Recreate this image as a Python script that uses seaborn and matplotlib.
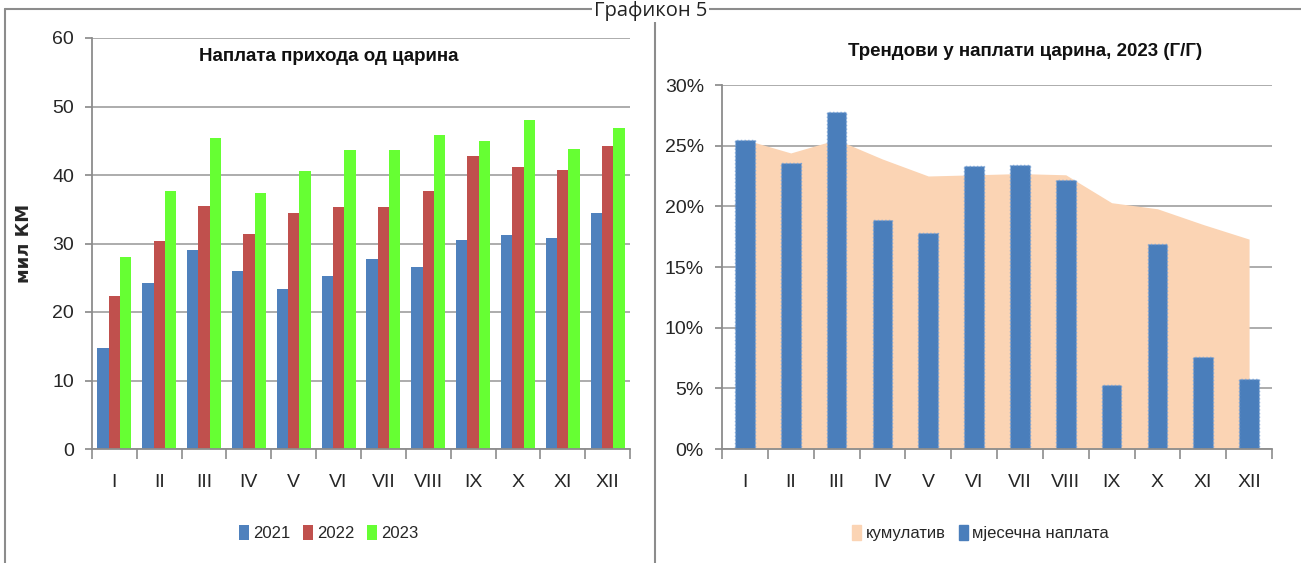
import pandas as pd
import seaborn as sns
import matplotlib.pyplot as plt
from matplotlib.lines import Line2D
from matplotlib.patches import Patch
from matplotlib.ticker import FuncFormatter, FixedLocator

# ---- data ----
months = ["I", "II", "III", "IV", "V", "VI", "VII", "VIII", "IX", "X", "XI", "XII"]
years = ["2021", "2022", "2023"]
rev_2021 = [14.7, 24.3, 29.0, 26.0, 23.3, 25.3, 27.7, 26.6, 30.5, 31.3, 30.8, 34.4]
rev_2022 = [22.4, 30.4, 35.5, 31.4, 34.4, 35.3, 35.3, 37.6, 42.8, 41.2, 40.8, 44.3]
rev_2023 = [28.0, 37.7, 45.4, 37.4, 40.6, 43.6, 43.6, 45.9, 45.0, 48.0, 43.8, 46.9]
monthly_yoy = [25.5, 23.6, 27.8, 18.9, 17.8, 23.3, 23.4, 22.2, 5.3, 16.9, 7.6, 5.8]
cumulative_yoy = [25.5, 24.4, 25.5, 23.9, 22.5, 22.6, 22.7, 22.6, 20.3, 19.8, 18.5, 17.3]

year_colors = ["#4f81bd", "#c0504d", "#66ff33"]
bar_blue = "#4a7ebb"
area_peach = "#fbd4b4"
grid_gray = "#a6a6a6"

sns.set_theme(style="white")
plt.rcParams["font.family"] = ["Liberation Sans", "DejaVu Sans"]

fig = plt.figure(figsize=(13.01, 5.63), dpi=100)

# panel frames and page title
for x0, x1 in [(5, 650), (655, 1301)]:
    fig.add_artist(Line2D([x0 / 1301, x1 / 1301], [1 - 9 / 563] * 2, color="#8c8c8c", lw=1.5))
    fig.add_artist(Line2D([x0 / 1301] * 2, [0, 1 - 9 / 563], color="#8c8c8c", lw=1.5))
fig.text(0.5, 1 - 16 / 563, "Графикон 5", ha="center", va="baseline",
         fontsize=14.5, family=["Open Sans", "DejaVu Sans"], color="#222222",
         bbox=dict(facecolor="white", edgecolor="none", pad=1))


def style_axis(ax):
    ax.yaxis.grid(True, color=grid_gray, lw=1.3)
    ax.set_axisbelow(True)
    for s in ["top", "right"]:
        ax.spines[s].set_visible(False)
    for s in ["left", "bottom"]:
        ax.spines[s].set_color("#8c8c8c")
        ax.spines[s].set_linewidth(1.3)
    ax.set_xlim(-0.5, 11.5)
    ax.xaxis.set_minor_locator(FixedLocator([i - 0.5 for i in range(13)]))
    ax.tick_params(axis="x", which="major", length=0, pad=18, labelsize=14)
    ax.tick_params(axis="x", which="minor", bottom=True, length=7, color="#8c8c8c", width=1.2)
    ax.tick_params(axis="y", left=True, length=5, color="#8c8c8c", labelsize=14, pad=8)
    ax.set_xlabel("")


# ---- left: monthly customs revenue ----
ax1 = fig.add_axes([92 / 1301, 1 - 449 / 563, 538 / 1301, 411 / 563])
df = pd.DataFrame({
    "month": months * 3,
    "year": [y for y in years for _ in months],
    "value": rev_2021 + rev_2022 + rev_2023,
})
sns.barplot(data=df, x="month", y="value", hue="year", palette=year_colors,
            width=0.76, saturation=1, linewidth=0, ax=ax1)
ax1.set_ylim(0, 60)
ax1.set_yticks(range(0, 61, 10))
style_axis(ax1)
ax1.set_ylabel("мил КМ", fontsize=13, fontweight="bold", family=["DejaVu Sans"], labelpad=14)
ax1.text(0.44, 0.955, "Наплата прихода од царина", transform=ax1.transAxes,
         ha="center", va="center", fontsize=13.5, fontweight="bold", color="#111111")
ax1.legend(loc="center", bbox_to_anchor=(0.44, -0.205), ncol=3, frameon=False,
           fontsize=12, handlelength=0.55, handleheight=1.0, handletextpad=0.25,
           columnspacing=0.8)

# ---- right: year-on-year growth ----
ax2 = fig.add_axes([722 / 1301, 1 - 449 / 563, 550 / 1301, 364 / 563])
ax2.fill_between(range(len(months)), cumulative_yoy, 0, color=area_peach, lw=0, zorder=1.5)
sns.barplot(x=months, y=monthly_yoy, color=bar_blue, width=0.43, saturation=1,
            edgecolor="#7aa3d6", linestyle=":", linewidth=1.0, ax=ax2, zorder=2)
ax2.set_ylim(0, 30)
ax2.set_yticks(range(0, 31, 5))
ax2.yaxis.set_major_formatter(FuncFormatter(lambda v, p: f"{v:.0f}%"))
style_axis(ax2)
ax2.set_ylabel("")
fig.text(1025 / 1301, 1 - 52 / 563, "Трендови у наплати царина, 2023 (Г/Г)",
         ha="center", va="center", fontsize=13.5, fontweight="bold", color="#111111")
handles = [Patch(color=area_peach, label="кумулатив"), Patch(color=bar_blue, label="мјесечна наплата")]
ax2.legend(handles=handles, loc="center", bbox_to_anchor=(0.47, -0.23), ncol=2, frameon=False,
           fontsize=12, handlelength=0.55, handleheight=1.0, handletextpad=0.25,
           columnspacing=0.8)

fig.savefig("out.png", dpi=100)
